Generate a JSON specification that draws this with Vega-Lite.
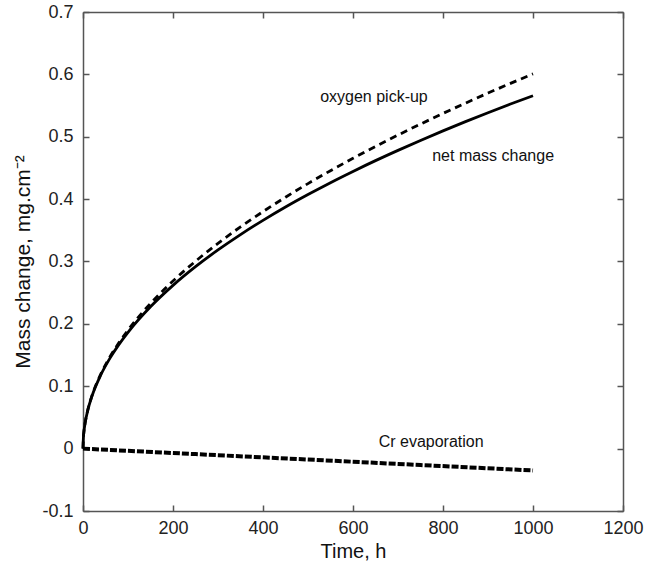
{
  "$schema": "https://vega.github.io/schema/vega-lite/v6.json",
  "width": 540,
  "height": 499,
  "autosize": {"type": "none"},
  "padding": {"left": 83, "top": 12, "right": 22, "bottom": 57},
  "config": {
    "view": {"stroke": null},
    "font": "Liberation Sans",
    "axis": {
      "domainColor": "#555555",
      "domainWidth": 1.5,
      "tickColor": "#555555",
      "tickWidth": 1.5,
      "tickSize": -6,
      "grid": false,
      "labelFlush": false,
      "labelOverlap": false,
      "labelFont": "Liberation Sans",
      "labelFontSize": 18,
      "labelColor": "#222222",
      "labelExpr": "'' + datum.value",
      "titleFont": "Liberation Sans",
      "titleFontSize": 20,
      "titleFontWeight": "normal",
      "titleColor": "#111111"
    }
  },
  "datasets": {
    "curves": [
      {"series": "oxygen pick-up", "t": 0, "v": 0},
      {"series": "oxygen pick-up", "t": 1, "v": 0.019},
      {"series": "oxygen pick-up", "t": 2, "v": 0.0269},
      {"series": "oxygen pick-up", "t": 5, "v": 0.0425},
      {"series": "oxygen pick-up", "t": 10, "v": 0.0601},
      {"series": "oxygen pick-up", "t": 20, "v": 0.085},
      {"series": "oxygen pick-up", "t": 40, "v": 0.1202},
      {"series": "oxygen pick-up", "t": 60, "v": 0.1472},
      {"series": "oxygen pick-up", "t": 80, "v": 0.1699},
      {"series": "oxygen pick-up", "t": 100, "v": 0.19},
      {"series": "oxygen pick-up", "t": 150, "v": 0.2327},
      {"series": "oxygen pick-up", "t": 200, "v": 0.2687},
      {"series": "oxygen pick-up", "t": 250, "v": 0.3004},
      {"series": "oxygen pick-up", "t": 300, "v": 0.3291},
      {"series": "oxygen pick-up", "t": 350, "v": 0.3555},
      {"series": "oxygen pick-up", "t": 400, "v": 0.38},
      {"series": "oxygen pick-up", "t": 450, "v": 0.4031},
      {"series": "oxygen pick-up", "t": 500, "v": 0.4249},
      {"series": "oxygen pick-up", "t": 550, "v": 0.4456},
      {"series": "oxygen pick-up", "t": 600, "v": 0.4654},
      {"series": "oxygen pick-up", "t": 650, "v": 0.4844},
      {"series": "oxygen pick-up", "t": 700, "v": 0.5027},
      {"series": "oxygen pick-up", "t": 750, "v": 0.5203},
      {"series": "oxygen pick-up", "t": 800, "v": 0.5374},
      {"series": "oxygen pick-up", "t": 850, "v": 0.5539},
      {"series": "oxygen pick-up", "t": 900, "v": 0.57},
      {"series": "oxygen pick-up", "t": 950, "v": 0.5856},
      {"series": "oxygen pick-up", "t": 1000, "v": 0.6008},
      {"series": "net mass change", "t": 0, "v": 0},
      {"series": "net mass change", "t": 1, "v": 0.019},
      {"series": "net mass change", "t": 2, "v": 0.0268},
      {"series": "net mass change", "t": 5, "v": 0.0423},
      {"series": "net mass change", "t": 10, "v": 0.0597},
      {"series": "net mass change", "t": 20, "v": 0.0843},
      {"series": "net mass change", "t": 40, "v": 0.1188},
      {"series": "net mass change", "t": 60, "v": 0.1451},
      {"series": "net mass change", "t": 80, "v": 0.1671},
      {"series": "net mass change", "t": 100, "v": 0.1865},
      {"series": "net mass change", "t": 150, "v": 0.2274},
      {"series": "net mass change", "t": 200, "v": 0.2617},
      {"series": "net mass change", "t": 250, "v": 0.2917},
      {"series": "net mass change", "t": 300, "v": 0.3186},
      {"series": "net mass change", "t": 350, "v": 0.3432},
      {"series": "net mass change", "t": 400, "v": 0.366},
      {"series": "net mass change", "t": 450, "v": 0.3874},
      {"series": "net mass change", "t": 500, "v": 0.4074},
      {"series": "net mass change", "t": 550, "v": 0.4264},
      {"series": "net mass change", "t": 600, "v": 0.4444},
      {"series": "net mass change", "t": 650, "v": 0.4617},
      {"series": "net mass change", "t": 700, "v": 0.4782},
      {"series": "net mass change", "t": 750, "v": 0.4941},
      {"series": "net mass change", "t": 800, "v": 0.5094},
      {"series": "net mass change", "t": 850, "v": 0.5242},
      {"series": "net mass change", "t": 900, "v": 0.5385},
      {"series": "net mass change", "t": 950, "v": 0.5524},
      {"series": "net mass change", "t": 1000, "v": 0.5658},
      {"series": "Cr evaporation", "t": 0, "v": 0},
      {"series": "Cr evaporation", "t": 250, "v": -0.0088},
      {"series": "Cr evaporation", "t": 500, "v": -0.0175},
      {"series": "Cr evaporation", "t": 750, "v": -0.0263},
      {"series": "Cr evaporation", "t": 1000, "v": -0.035}
    ],
    "labels": [
      {"label": "oxygen pick-up", "t": 527, "v": 0.564},
      {"label": "net mass change", "t": 776, "v": 0.469},
      {"label": "Cr evaporation", "t": 657, "v": 0.01}
    ]
  },
  "layer": [
    {
      "data": {"name": "curves"},
      "transform": [{"filter": "datum.series == 'net mass change'"}],
      "mark": {"type": "line", "interpolate": "monotone", "color": "#000000", "strokeWidth": 2.8},
      "encoding": {
        "x": {
          "field": "t", "type": "quantitative",
          "scale": {"domain": [0, 1200], "nice": false},
          "axis": {"orient": "bottom", "values": [0, 200, 400, 600, 800, 1000, 1200], "title": "Time, h", "labelPadding": 14, "titlePadding": 4}
        },
        "y": {
          "field": "v", "type": "quantitative",
          "scale": {"domain": [-0.1, 0.7], "nice": false, "zero": false},
          "axis": {"orient": "left", "values": [-0.1, 0, 0.1, 0.2, 0.3, 0.4, 0.5, 0.6, 0.7], "title": "Mass change, mg.cm⁻²", "titleFontSize": 21, "labelPadding": 16, "titlePadding": 8}
        }
      }
    },
    {
      "data": {"name": "curves"},
      "transform": [{"filter": "datum.series == 'oxygen pick-up'"}],
      "mark": {"type": "line", "interpolate": "monotone", "color": "#000000", "strokeWidth": 2.8, "strokeDash": [7, 5]},
      "encoding": {
        "x": {"field": "t", "type": "quantitative", "axis": null},
        "y": {"field": "v", "type": "quantitative", "axis": null}
      }
    },
    {
      "data": {"name": "curves"},
      "transform": [{"filter": "datum.series == 'Cr evaporation'"}],
      "mark": {"type": "line", "color": "#000000", "strokeWidth": 4, "strokeDash": [7, 2]},
      "encoding": {
        "x": {"field": "t", "type": "quantitative", "axis": null},
        "y": {"field": "v", "type": "quantitative", "axis": null}
      }
    },
    {
      "data": {"name": "labels"},
      "mark": {"type": "text", "align": "left", "baseline": "middle", "fontSize": 16, "font": "Liberation Sans", "color": "#111111"},
      "encoding": {
        "x": {"field": "t", "type": "quantitative", "axis": null},
        "y": {"field": "v", "type": "quantitative", "axis": null},
        "text": {"field": "label"}
      }
    },
    {
      "data": {"name": "labels"},
      "mark": {"type": "point", "opacity": 0},
      "encoding": {
        "x": {"field": "t", "type": "quantitative", "axis": {"orient": "top", "values": [0, 200, 400, 600, 800, 1000, 1200], "labels": false, "title": null}},
        "y": {"field": "v", "type": "quantitative", "axis": {"orient": "right", "values": [-0.1, 0, 0.1, 0.2, 0.3, 0.4, 0.5, 0.6, 0.7], "labels": false, "title": null}}
      }
    }
  ],
  "resolve": {"axis": {"x": "independent", "y": "independent"}}
}
